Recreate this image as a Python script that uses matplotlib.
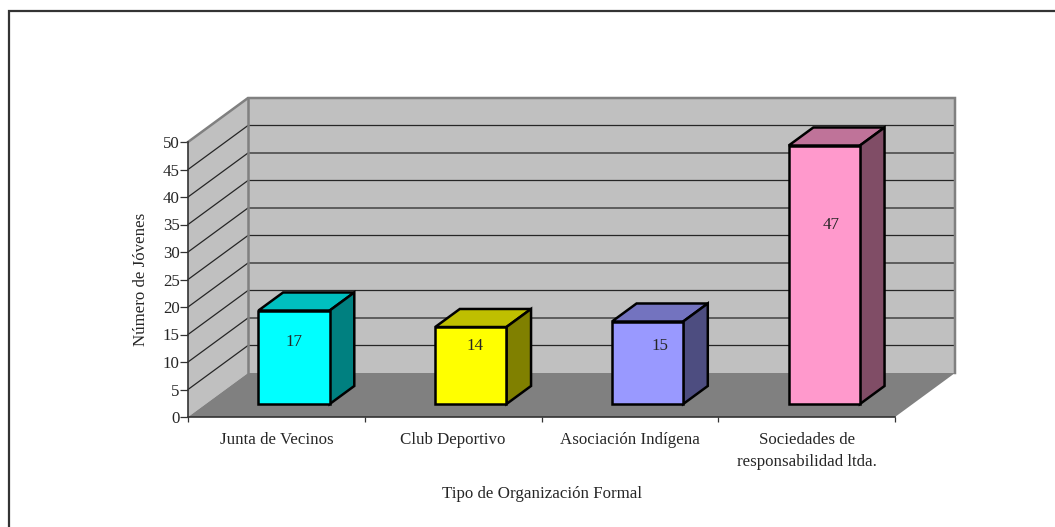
import matplotlib
matplotlib.use("Agg")
import numpy as np
from matplotlib import pyplot as plt
from matplotlib.lines import Line2D
from matplotlib.patches import Polygon

categories = ["Junta de Vecinos", "Club Deportivo", "Asociación Indígena",
              "Sociedades de\nresponsabilidad ltda."]
values = [17, 14, 15, 47]
yticks = [0, 5, 10, 15, 20, 25, 30, 35, 40, 45, 50]
front_colors = ["#00ffff", "#ffff00", "#9999ff", "#ff99cc"]
top_colors = ["#00bfbf", "#bfbf00", "#7373bf", "#bf7399"]
side_colors = ["#008080", "#808000", "#4d4d80", "#804d66"]

W, H = 1055, 527
X0, X1, Y0, Y1 = 188, 895, 417, 142

# depth of the fake 3d box, in data units
DX = 60 / ((X1 - X0) / 4)
DY = 44 / ((Y0 - Y1) / 50)
BAR_W = 0.403
BAR_D0 = 0.295
BAR_D1 = 0.705
FS = 12.2
TXT = "#262626"

# where the value labels sit, pixels away from the bar front face centre / bottom
label_dx = [0, 4.5, 12.5, 7]
label_up = [62, 58, 58, 179]


def proj(x, y, d):
    return (x + d * DX, y + d * DY)


def poly(ax, pts, fc, ec="none", lw=0, z=1):
    p = Polygon(pts, closed=True, facecolor=fc, edgecolor=ec, linewidth=lw,
                zorder=z, clip_on=False, joinstyle="miter")
    ax.add_patch(p)


plt.rcParams["font.family"] = ["Liberation Serif", "DejaVu Serif"]
fig = plt.figure(figsize=(W / 100, H / 100), dpi=100)

# only the top and left of the page frame show up
fig.add_artist(Line2D([9 / W, 9 / W, 1], [0, 1 - 11 / H, 1 - 11 / H],
                      transform=fig.transFigure, color="#333333", lw=1.6,
                      solid_joinstyle="miter"))

ax = fig.add_axes([X0 / W, 1 - Y0 / H, (X1 - X0) / W, (Y0 - Y1) / H])
ax.set_xlim(0, 4)
ax.set_ylim(0, 50)
ax.patch.set_visible(False)

n = len(categories)
ymax = yticks[-1]
px_x = n / (X1 - X0)
px_y = ymax / (Y0 - Y1)

# walls and floor
poly(ax, [proj(0, 0, 0), proj(0, ymax, 0), proj(0, ymax, 1), proj(0, 0, 1)], "#c0c0c0")
poly(ax, [proj(0, 0, 1), proj(0, ymax, 1), proj(n, ymax, 1), proj(n, 0, 1)], "#c0c0c0")
poly(ax, [proj(0, 0, 0), proj(n, 0, 0), proj(n, 0, 1), proj(0, 0, 1)], "#808080")

# gridlines
for t in yticks[1:-1]:
    xs, ys = zip(proj(0, t, 0), proj(0, t, 1), proj(n, t, 1))
    ax.plot(xs, ys, color="#262626", lw=0.9, zorder=2, clip_on=False)

# wall outline
xs, ys = zip(proj(0, 0, 0), proj(0, ymax, 0), proj(0, ymax, 1), proj(n, ymax, 1), proj(n, 0, 1))
ax.plot(xs[1:], ys[1:], color="#808080", lw=1.8, zorder=3, clip_on=False, solid_joinstyle="miter")
xs, ys = zip(proj(0, ymax, 1), proj(0, 0, 1))
ax.plot(xs, ys, color="#808080", lw=1.8, zorder=3, clip_on=False)

# bars
for i, v in enumerate(values):
    x0 = i + 0.5 - BAR_W / 2
    x1 = i + 0.5 + BAR_W / 2
    a = proj(x0, 0, BAR_D0)
    b = proj(x1, 0, BAR_D0)
    c = proj(x1, v, BAR_D0)
    e = proj(x0, v, BAR_D0)
    f = proj(x0, v, BAR_D1)
    g = proj(x1, v, BAR_D1)
    h = proj(x1, 0, BAR_D1)
    poly(ax, [e, c, g, f], top_colors[i], "black", 1.8, 4)
    poly(ax, [b, h, g, c], side_colors[i], "black", 1.8, 4)
    poly(ax, [a, b, c, e], front_colors[i], "black", 1.8, 5)
    lx, ly = proj(i + 0.5, 0, BAR_D0)
    ax.text(lx + label_dx[i] * px_x, ly + label_up[i] * px_y, str(v), ha="center",
            va="center", fontsize=FS, color=TXT, zorder=6)

for s in ["top", "right"]:
    ax.spines[s].set_visible(False)
for s in ["left", "bottom"]:
    ax.spines[s].set_color("#333333")
    ax.spines[s].set_linewidth(1.2)
    ax.spines[s].set_zorder(3)

ax.set_yticks(yticks)
ax.set_xticks(np.arange(n + 1))
ax.set_xticklabels([])
ax.set_xticks(np.arange(n) + 0.5, labels=categories, minor=True)
ax.tick_params(axis="x", which="major", length=3.6, width=0.9, color="#333333")
ax.tick_params(axis="x", which="minor", length=0, pad=10.8, labelsize=FS, labelcolor=TXT)
ax.tick_params(axis="y", length=5.5, width=0.9, color="#333333", labelsize=FS,
               labelcolor=TXT, pad=0.5)
for lab in ax.get_xticklabels(minor=True):
    lab.set_linespacing(1.5)
ax.set_ylabel("Número de Jóvenes", fontsize=FS, color=TXT, labelpad=10)
ax.set_xlabel("Tipo de Organización Formal", fontsize=FS, color=TXT, labelpad=11.8)

fig.savefig("out.png", dpi=100)
